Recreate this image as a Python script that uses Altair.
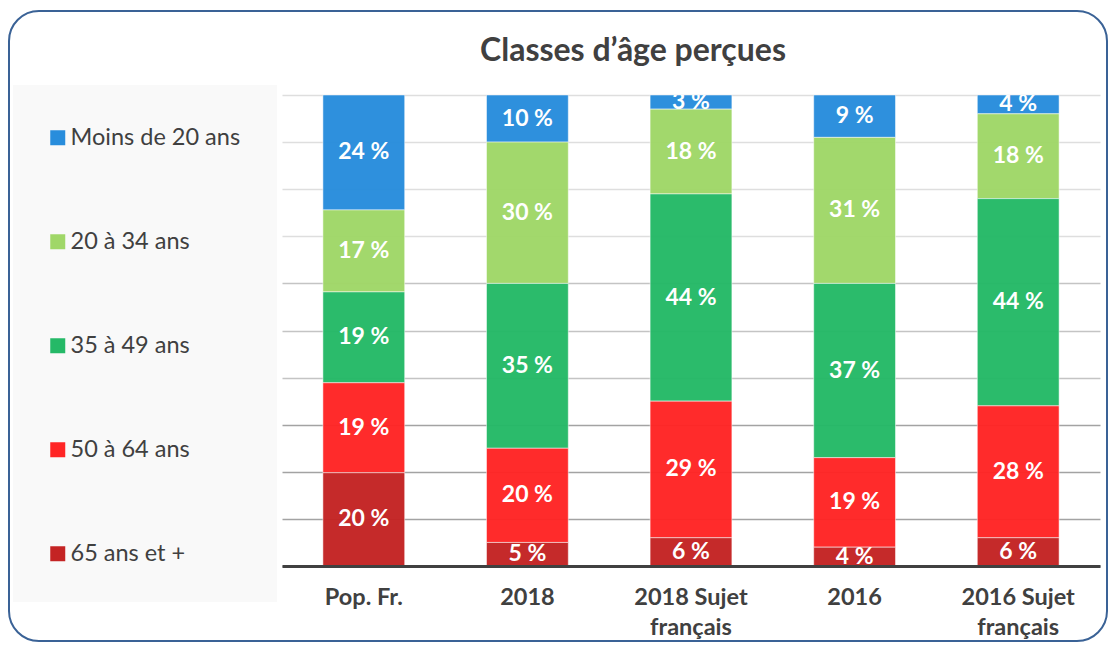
import altair as alt
import pandas as pd

categories = ["Pop. Fr.", "2018", "2018 Sujet français", "2016", "2016 Sujet français"]
age_classes = ["Moins de 20 ans", "20 à 34 ans", "35 à 49 ans", "50 à 64 ans", "65 ans et +"]
moins_20 = [24.4, 10, 3, 9, 4]
ans_20_34 = [17.4, 30, 18, 31, 18]
ans_35_49 = [19.3, 35, 44, 37, 44]
ans_50_64 = [19.1, 20, 29, 19, 28]
ans_65_plus = [19.8, 5, 6, 4, 6]
colors = ["#288DDC", "#A0D768", "#25B967", "#FF2525", "#C42424"]
title_text = "Classes d’âge perçues"

series = [moins_20, ans_20_34, ans_35_49, ans_50_64, ans_65_plus]
rows = []
for ai, (age, vals) in enumerate(zip(age_classes, series)):
    for cat, v in zip(categories, vals):
        rows.append({"cat": cat, "age": age, "value": v, "ord": len(age_classes) - ai})
df = pd.DataFrame(rows)

FONT = "Lato"
TXT = "#404040"
W, H = 818, 471

x_enc = alt.X("cat:N", sort=categories, title=None,
              scale=alt.Scale(paddingInner=0.5, paddingOuter=0.25),
              axis=alt.Axis(labelAngle=0, labelFontSize=23.5, labelFontWeight="bold",
                            labelColor=TXT, labelFont=FONT, domainColor=TXT, domainWidth=3,
                            ticks=False, labelPadding=19, labelLineHeight=30, zindex=1,
                            labelExpr="indexof(datum.label, ' Sujet ') > 0 ? [replace(datum.label, ' français', ''), 'français'] : datum.label"))

y_scale = alt.Scale(domain=[0, 100], nice=False)
y_axis = alt.Axis(labels=False, ticks=False, domain=False, title=None,
                  values=list(range(0, 101, 10)), gridWidth=1.5,
                  gridColor={"condition": [{"test": "datum.value <= 30", "value": "#a3a3a3"},
                                           {"test": "datum.value <= 60", "value": "#c4c4c4"}],
                             "value": "#dedede"})

base = alt.Chart(df).transform_stack(
    stack="value", groupby=["cat"], as_=["y0", "y1"],
    sort=[alt.SortField("ord", order="ascending")]
).transform_calculate(mid="(datum.y0 + datum.y1) / 2",
                      lbl="format(datum.value, '.0f') + ' %'")

bars = base.mark_bar(opacity=0.97, stroke="white", strokeOpacity=0.5, strokeWidth=1).encode(
    x=x_enc,
    y=alt.Y("y0:Q", scale=y_scale, axis=y_axis),
    y2="y1:Q",
    color=alt.Color("age:N", scale=alt.Scale(domain=age_classes, range=colors),
                    legend=alt.Legend(title=None, orient="none", legendX=-236, legendY=31,
                                      rowPadding=79, symbolType="square", symbolSize=225,
                                      symbolStrokeWidth=0, symbolOpacity=1, labelFontSize=23.5,
                                      labelFont=FONT, labelColor=TXT, labelOffset=1,
                                      labelLimit=300)),
)

labels = base.mark_text(color="white", fontSize=23, fontWeight="bold", font=FONT,
                        clip=True, baseline="middle").encode(
    x=alt.X("cat:N", sort=categories),
    y=alt.Y("mid:Q", scale=y_scale),
    text="lbl:N",
)

one = pd.DataFrame({"k": [0]})
frame = alt.Chart(one).mark_rect(fill="white", fillOpacity=0, stroke="#3A6296", strokeWidth=2,
                                 cornerRadius=30).encode(
    x=alt.value(-273), x2=alt.value(825), y=alt.value(-84), y2=alt.value(546))
legend_bg = alt.Chart(one).mark_rect(fill="#f9f9f9").encode(
    x=alt.value(-269), x2=alt.value(-5), y=alt.value(-10), y2=alt.value(507))
title = alt.Chart(one).mark_text(text=title_text, fontSize=32, fontWeight="bold", font=FONT,
                                 color=TXT, baseline="middle", align="center").encode(
    x=alt.value(351), y=alt.value(-44))

chart = alt.layer(frame, legend_bg, bars, labels, title).properties(
    width=W, height=H,
    autosize=alt.AutoSizeParams(type="none"),
    padding={"left": 274, "top": 87, "right": 8, "bottom": 77},
).configure_view(stroke=None)

chart.save("out.html", embed_options={"renderer": "svg", "actions": False})
